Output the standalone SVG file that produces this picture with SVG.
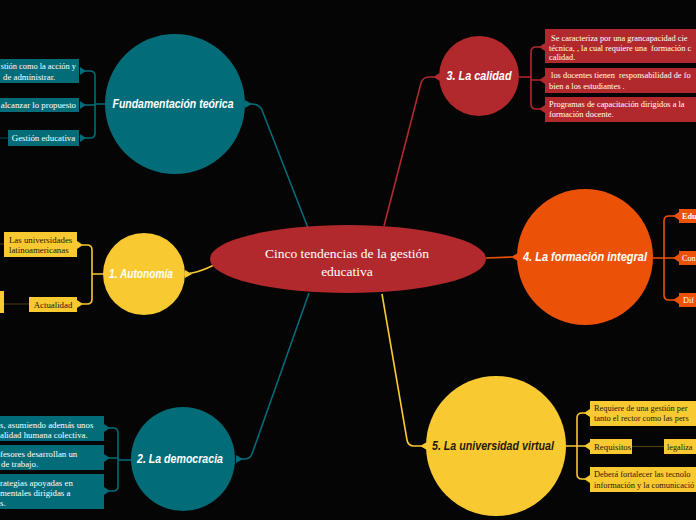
<svg xmlns="http://www.w3.org/2000/svg" width="696" height="520" viewBox="0 0 696 520">
<style>
.bg{fill:#050505}
.teal{fill:#036c79}
.red{fill:#b2292d}
.orange{fill:#eb5208}
.yellow{fill:#f8c931}
.sT{stroke:#036c79}
.sR{stroke:#b2292d}
.sO{stroke:#eb5208}
.sY{stroke:#f8c931}
.ln{fill:none;stroke-width:1.6}
.dk{fill:none;stroke-width:1.2}
.title{font-family:"Comic Sans MS","Liberation Sans",sans-serif;font-style:italic;font-weight:bold;font-size:12px;text-anchor:middle}
.main{font-family:"Liberation Serif",serif;font-size:13.5px;fill:#ffffff;text-anchor:middle}
.bx{font-family:"Liberation Serif",serif;font-size:8.8px}
.sm{font-size:8.2px}
.md{font-size:8.4px}
.w{fill:#ffffff}
.d{fill:#1e1a10}
</style>
<rect class="bg" x="0" y="0" width="696" height="520"/>

<g id="connectors">
  <path class="ln sT" d="M308 228 L262 110 Q259 104 252 104 L248 104"/>
  <polygon class="teal" points="245,100 245,108 252,104"/>
  <path class="ln sR" d="M384 226 L421 83 Q423 77 429 77 L434 77"/>
  <polygon class="red" points="440,73 440,81 433,77"/>
  <path class="ln sO" d="M486 258 L512 257"/>
  <polygon class="orange" points="518,253 518,261 511,257"/>
  <path class="ln sY" d="M382 294 L407 440 Q408 446 414 446 L421 446"/>
  <polygon class="yellow" points="427,442 427,450 420,446"/>
  <path class="ln sT" d="M309 293 L252 454 Q250 459 244 459 L240 459"/>
  <polygon class="teal" points="236,455 236,463 243,459"/>
  <path class="ln sY" d="M214 265 Q202 271 192 273 L190 273"/>
  <polygon class="yellow" points="185,270 185,278 192,274"/>

  <path class="ln sT" d="M105 104 L95 104 M84 71 L90 71 Q95 71 95 76 L95 133 Q95 138 90 138 L84 138 M95 105 L84 105"/>
  <polygon class="teal" points="80,67 80,75 86,71"/>
  <polygon class="teal" points="80,101 80,109 86,105"/>
  <polygon class="teal" points="80,134 80,142 86,138"/>
  <path class="dk" stroke="#0a3f46" d="M0 138 L8 138"/>

  <path class="ln sY" d="M103 274 L92 274 M82 245 L87 245 Q92 245 92 250 L92 299 Q92 304 87 304 L82 304"/>
  <polygon class="yellow" points="77,241 77,249 83,245"/>
  <polygon class="yellow" points="77,300 77,308 83,304"/>
  <path class="dk" stroke="#4c3f10" d="M0 244 L4 244 M4 304 L29 304"/>

  <path class="ln sT" d="M131 460 L118 460 M109 428 L113 428 Q118 428 118 433 L118 486 Q118 491 113 491 L109 491 M118 458 L109 458"/>
  <polygon class="teal" points="104,424 104,432 110,428"/>
  <polygon class="teal" points="104,454 104,462 110,458"/>
  <polygon class="teal" points="104,487 104,495 110,491"/>

  <path class="ln sR" d="M519 77 L531 77 M540 47 L536 47 Q531 47 531 52 L531 104 Q531 109 536 109 L540 109 M531 80 L540 80"/>
  <polygon class="red" points="545,43 545,51 539,47"/>
  <polygon class="red" points="545,76 545,84 539,80"/>
  <polygon class="red" points="545,105 545,113 539,109"/>

  <path class="ln sO" d="M653 258 L664 258 M674 216 L669 216 Q664 216 664 221 L664 295 Q664 300 669 300 L674 300 M664 258 L674 258"/>
  <polygon class="orange" points="679,212 679,220 673,216"/>
  <polygon class="orange" points="679,254 679,262 673,258"/>
  <polygon class="orange" points="679,296 679,304 673,300"/>

  <path class="ln sY" d="M566 446 L577 446 M585 413 L582 413 Q577 413 577 418 L577 474 Q577 479 582 479 L585 479 M577 446 L585 446"/>
  <polygon class="yellow" points="590,409 590,417 584,413"/>
  <polygon class="yellow" points="590,442 590,450 584,446"/>
  <polygon class="yellow" points="590,475 590,483 584,479"/>
  <path class="dk" stroke="#4c3f10" d="M632 446.5 L664 446.5"/>
</g>

<g id="central">
  <ellipse class="red" cx="348" cy="259" rx="138" ry="34"/>
  <text class="main" x="347" y="258">Cinco tendencias de la gestión</text>
  <text class="main" x="347" y="276">educativa</text>
</g>

<g id="fundamentacion">
  <circle class="teal" cx="175" cy="104" r="70"/>
  <text class="title w" x="173" y="108" textLength="121" lengthAdjust="spacingAndGlyphs">Fundamentación teórica</text>
</g>
<g id="fund-1">
  <rect class="teal" x="-40" y="59" width="119" height="24"/>
  <text class="bx md w" x="76" y="69" text-anchor="end">stión como la acción y</text>
  <text class="bx w" x="3" y="80">de administrar.</text>
</g>
<g id="fund-2">
  <rect class="teal" x="-40" y="98" width="119" height="14"/>
  <text class="bx w" x="76" y="108" text-anchor="end">alcanzar lo propuesto</text>
</g>
<g id="fund-3">
  <rect class="teal" x="8" y="130" width="71" height="16"/>
  <text class="bx w" x="43.5" y="141" text-anchor="middle">Gestión educativa</text>
</g>

<g id="autonomia">
  <circle class="yellow" cx="144" cy="274" r="41"/>
  <text class="title w" x="141" y="278" textLength="64" lengthAdjust="spacingAndGlyphs">1. Autonomía</text>
</g>
<g id="auto-1">
  <rect class="yellow" x="4" y="232" width="73" height="25"/>
  <text class="bx d" x="9" y="243">Las universidades</text>
  <text class="bx d" x="9" y="253">latinoamericanas</text>
</g>
<g id="auto-2">
  <rect class="yellow" x="29" y="297" width="48" height="15"/>
  <text class="bx d" x="53" y="308" text-anchor="middle">Actualidad</text>
</g>
<g id="auto-3">
  <rect class="yellow" x="-30" y="291" width="34" height="22"/>
</g>

<g id="democracia">
  <circle class="teal" cx="183" cy="459" r="52"/>
  <text class="title w" x="180" y="463" textLength="86" lengthAdjust="spacingAndGlyphs">2. La democracia</text>
</g>
<g id="demo-1">
  <rect class="teal" x="-40" y="416" width="144" height="25"/>
  <text class="bx w" x="0" y="428">s, asumiendo además unos</text>
  <text class="bx w" x="0" y="438">alidad humana colectiva.</text>
</g>
<g id="demo-2">
  <rect class="teal" x="-40" y="445" width="144" height="25"/>
  <text class="bx w" x="0" y="457">fesores desarrollan un</text>
  <text class="bx w" x="1" y="467">de trabajo.</text>
</g>
<g id="demo-3">
  <rect class="teal" x="-40" y="474" width="144" height="35"/>
  <text class="bx w" x="0" y="486">rategias apoyadas en</text>
  <text class="bx w" x="0" y="496">mentales dirigidas a</text>
  <text class="bx w" x="0" y="506">s.</text>
</g>

<g id="calidad">
  <circle class="red" cx="479" cy="76" r="40"/>
  <text class="title w" x="479" y="80" textLength="65" lengthAdjust="spacingAndGlyphs">3. La calidad</text>
</g>
<g id="cal-1">
  <rect class="red" x="545" y="29" width="195" height="34"/>
  <text class="bx md w" x="549" y="41" xml:space="preserve"> Se caracteriza por una grancapacidad cie</text>
  <text class="bx md w" x="549" y="51" xml:space="preserve">técnica, , la cual requiere una  formación c</text>
  <text class="bx md w" x="549" y="60">calidad.</text>
</g>
<g id="cal-2">
  <rect class="red" x="545" y="68" width="195" height="25"/>
  <text class="bx md w" x="549" y="78" xml:space="preserve"> los docentes tienen  responsabilidad de fo</text>
  <text class="bx md w" x="549" y="89">bien a los estudiantes .</text>
</g>
<g id="cal-3">
  <rect class="red" x="545" y="97" width="195" height="25"/>
  <text class="bx md w" x="549" y="107">Programas de capacitación dirigidos a la</text>
  <text class="bx md w" x="549" y="117">formación docente.</text>
</g>

<g id="formacion">
  <circle class="orange" cx="585" cy="257" r="68"/>
  <text class="title w" x="585" y="261" textLength="124" lengthAdjust="spacingAndGlyphs">4. La formación integral</text>
</g>
<g id="form-1">
  <rect class="orange" x="679" y="209" width="61" height="14"/>
  <text class="bx sm w" x="682" y="219" font-weight="bold">Edu</text>
</g>
<g id="form-2">
  <rect class="orange" x="679" y="251" width="61" height="14"/>
  <text class="bx sm w" x="682" y="261">Con</text>
</g>
<g id="form-3">
  <rect class="orange" x="679" y="293" width="61" height="14"/>
  <text class="bx sm w" x="683" y="303">Dif</text>
</g>

<g id="virtual">
  <circle class="yellow" cx="496" cy="446" r="70"/>
  <text class="title d" x="493" y="450" textLength="122" lengthAdjust="spacingAndGlyphs">5. La universidad virtual</text>
</g>
<g id="virt-1">
  <rect class="yellow" x="590" y="401" width="150" height="25"/>
  <text class="bx md d" x="594" y="411">Requiere de una gestión per</text>
  <text class="bx md d" x="594" y="421">tanto el rector como las pers</text>
</g>
<g id="virt-2">
  <rect class="yellow" x="590" y="439" width="42" height="15"/>
  <text class="bx d" x="594" y="450">Requisitos</text>
</g>
<g id="virt-2a">
  <rect class="yellow" x="664" y="439" width="76" height="15"/>
  <text class="bx sm d" x="667" y="450">legaliza</text>
</g>
<g id="virt-3">
  <rect class="yellow" x="590" y="467" width="150" height="25"/>
  <text class="bx md d" x="594" y="477">Deberá fortalecer las tecnolo</text>
  <text class="bx md d" x="594" y="488">información y la comunicació</text>
</g>
</svg>
